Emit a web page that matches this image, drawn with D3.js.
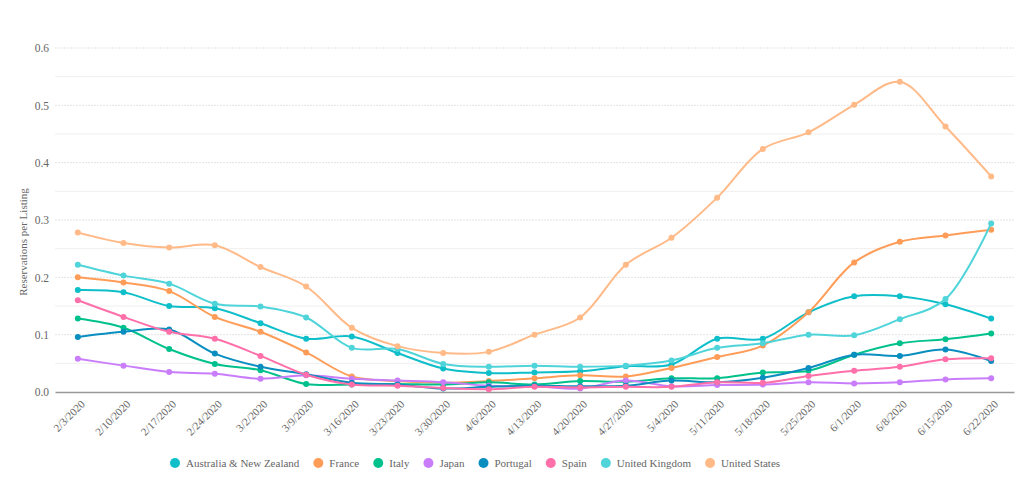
<!DOCTYPE html>
<html>
<head>
<meta charset="utf-8">
<script src="https://cdn.jsdelivr.net/npm/d3@7"></script>
<style>
  html, body { margin: 0; padding: 0; background: #fff; }
</style>
</head>
<body>
<svg id="chart"></svg>
<script>
// weeks on the x axis
const weeks = ["2/3/2020","2/10/2020","2/17/2020","2/24/2020","3/2/2020","3/9/2020","3/16/2020",
  "3/23/2020","3/30/2020","4/6/2020","4/13/2020","4/20/2020","4/27/2020","5/4/2020","5/11/2020",
  "5/18/2020","5/25/2020","6/1/2020","6/8/2020","6/15/2020","6/22/2020"];

const countries = ["Australia & New Zealand","France","Italy","Japan","Portugal","Spain","United Kingdom","United States"];
const colors    = ["#0ebfca","#ff9d58","#00c18c","#c97dfa","#0a8ec0","#ff6fa9","#4fd4da","#ffba88"];

// reservations per listing, one array per country
const anz      = [0.178,0.174,0.150,0.146,0.120,0.093,0.097,0.068,0.041,0.033,0.034,0.036,0.045,0.048,0.093,0.093,0.139,0.167,0.167,0.153,0.128];
const france   = [0.200,0.191,0.176,0.131,0.105,0.069,0.027,0.019,0.016,0.019,0.024,0.029,0.027,0.042,0.061,0.081,0.139,0.226,0.262,0.273,0.283];
const italy    = [0.128,0.112,0.075,0.049,0.038,0.014,0.013,0.014,0.013,0.017,0.013,0.019,0.018,0.024,0.024,0.034,0.037,0.065,0.085,0.092,0.102];
const japan    = [0.058,0.046,0.035,0.032,0.023,0.029,0.023,0.020,0.017,0.011,0.010,0.006,0.020,0.010,0.012,0.013,0.017,0.015,0.017,0.022,0.024];
const portugal = [0.096,0.105,0.109,0.067,0.044,0.031,0.016,0.013,0.006,0.009,0.011,0.010,0.011,0.020,0.017,0.025,0.042,0.065,0.063,0.074,0.054];
const spain    = [0.160,0.131,0.105,0.093,0.063,0.030,0.013,0.011,0.007,0.005,0.009,0.008,0.009,0.009,0.017,0.016,0.028,0.037,0.044,0.057,0.059];
const uk       = [0.222,0.203,0.189,0.154,0.149,0.130,0.077,0.075,0.049,0.044,0.046,0.044,0.046,0.055,0.077,0.085,0.100,0.099,0.127,0.162,0.294];
const us       = [0.278,0.260,0.252,0.256,0.218,0.184,0.112,0.080,0.068,0.070,0.100,0.130,0.222,0.269,0.339,0.424,0.453,0.501,0.541,0.463,0.376];

const series = [anz, france, italy, japan, portugal, spain, uk, us];
const yTicks = [0, 0.1, 0.2, 0.3, 0.4, 0.5, 0.6];

const FONT = "'Liberation Serif', 'DejaVu Serif', serif";

const width = 1024, height = 491;
const margin = { top: 48, right: 10, bottom: 99, left: 55 };

const svg = d3.select("#chart")
  .attr("width", width)
  .attr("height", height)
  .attr("font-family", FONT);

const x = d3.scaleBand()
  .domain(weeks)
  .range([margin.left, width - margin.right]);
const y = d3.scaleLinear()
  .domain([0, 0.6])
  .range([height - margin.bottom, margin.top]);

const cx = d => x(d) + x.bandwidth() / 2;

// grid: dotted at labelled ticks, solid in between
const grid = svg.append("g");
d3.range(0, 0.6001, 0.05).forEach((v, i) => {
  if (i === 0) return;
  grid.append("line")
    .attr("x1", margin.left).attr("x2", width - margin.right)
    .attr("y1", y(v)).attr("y2", y(v))
    .attr("stroke", i % 2 === 0 ? "#e3e3e3" : "#efefef")
    .attr("stroke-width", 1)
    .attr("stroke-dasharray", i % 2 === 0 ? "2,1" : null);
});

// y axis labels
const yAxis = svg.append("g")
  .attr("transform", `translate(${margin.left},0)`)
  .call(d3.axisLeft(y).tickValues(yTicks).tickFormat(d3.format(".1f")).tickSize(0).tickPadding(6));
yAxis.select(".domain").remove();
yAxis.selectAll("text").attr("font-size", 11.5);

svg.append("text")
  .attr("transform", "translate(27,242) rotate(-90)")
  .attr("text-anchor", "middle")
  .attr("font-size", 11)
  .text("Reservations per Listing");

// x axis
const xAxis = svg.append("g")
  .attr("transform", `translate(0,${y(0)})`)
  .call(d3.axisBottom(x).tickSize(0).tickPadding(0));
xAxis.select(".domain").attr("stroke", "#999").attr("stroke-width", 1.5);
xAxis.selectAll("text")
  .attr("font-size", 11)
  .attr("text-anchor", "end")
  .attr("dy", "0.35em")
  .attr("transform", "translate(5,10) rotate(-45)");

// lines
const line = d3.line()
  .x((d, i) => cx(weeks[i]))
  .y(d => y(d))
  .curve(d3.curveCatmullRom.alpha(0.5));

series.forEach((vals, k) => {
  const g = svg.append("g");
  g.append("path")
    .datum(vals)
    .attr("fill", "none")
    .attr("stroke", colors[k])
    .attr("stroke-width", 2)
    .attr("d", line);
  g.selectAll("circle")
    .data(vals)
    .join("circle")
    .attr("cx", (d, i) => cx(weeks[i]))
    .attr("cy", d => y(d))
    .attr("r", 3)
    .attr("fill", colors[k]);
});

// legend
const legend = svg.append("g").attr("transform", "translate(175,463)");
let lx = 0;
countries.forEach((name, k) => {
  const item = legend.append("g").attr("transform", `translate(${lx},0)`);
  item.append("circle").attr("r", 5).attr("fill", colors[k]);
  const t = item.append("text")
    .attr("x", 11)
    .attr("dy", "0.35em")
    .attr("font-size", 11)
    .text(name);
  lx += 11 + t.node().getComputedTextLength() + 19;
});

// all text: serif, grey
svg.selectAll("text")
  .style("font-family", FONT)
  .style("fill", "#666");
</script>
</body>
</html>
